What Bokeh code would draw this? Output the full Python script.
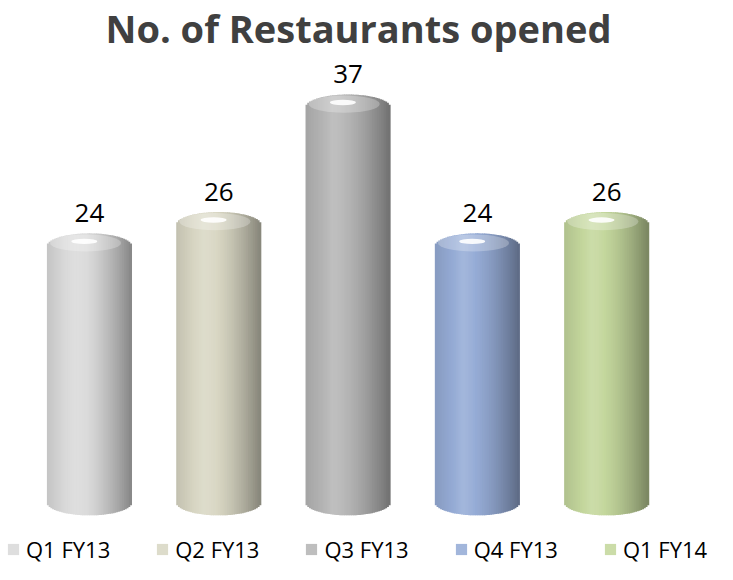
import numpy as np
from bokeh.plotting import figure
from bokeh.models import ColumnDataSource, Label, Legend, LegendItem, Range1d
from bokeh.core.properties import value
from bokeh.embed import file_html
from bokeh.resources import INLINE

# ---- data ----
categories = ["Q1 FY13", "Q2 FY13", "Q3 FY13", "Q4 FY13", "Q1 FY14"]
counts = [24, 26, 37, 24, 26]
base_colors = [(218, 218, 218), (217, 215, 196), (182, 182, 182), (150, 172, 214), (196, 215, 157)]
title_text = "No. of Restaurants opened"

W, H = 717, 564
p = figure(width=W, height=H, output_backend="svg", toolbar_location=None,
           x_range=Range1d(-0.688, 4.857), y_range=Range1d(-5.8, 47.0),
           x_axis_type=None, y_axis_type=None, min_border=0)
p.grid.visible = False
p.outline_line_color = None
p.background_fill_color = "white"
p.border_fill_color = "white"

bw = 0.65      # bar width (data units)
cap = 1.2      # half height of the elliptical cap (data units)
N = 48         # shading stripes per bar


def shade(rgb, u):
    if u < -0.35:
        t = (u + 1) / 0.65
        lum = 0.9 + 0.14 * t
    else:
        t = (u + 0.35) / 1.35
        lum = 1.04 - 0.42 * t ** 1.6
    out = []
    for c in rgb:
        if lum > 1:
            v = c + (255 - c) * (lum - 1) * 3
        else:
            v = c * lum
        out.append(int(max(0, min(255, round(v)))))
    return "#%02x%02x%02x" % tuple(out)


edges = np.linspace(-1, 1, N + 1)
us = (edges[:-1] + edges[1:]) / 2
half = np.sqrt(1 - us ** 2)

items = []
for i, (cat, v, col) in enumerate(zip(categories, counts, base_colors)):
    src = ColumnDataSource(dict(
        x=i + us * bw / 2,
        top=v + cap * half,
        bottom=-cap * half,
        color=[shade(col, u) for u in us],
    ))
    r = p.vbar(x="x", width=bw / N * 1.6, top="top", bottom="bottom",
               fill_color="color", line_color=None, source=src)
    items.append(LegendItem(label=cat, renderers=[r], index=N // 3))

# top-surface glow and specular highlight on each cap
xs = list(range(len(counts)))
p.ellipse(x=[x - 0.03 for x in xs], y=[v + 0.3 for v in counts], width=0.55, height=1.6,
          fill_color="white", fill_alpha=0.25, line_color=None)
p.ellipse(x=[x - 0.04 for x in xs], y=[v + 0.45 for v in counts], width=0.2, height=0.5,
          fill_color="white", fill_alpha=0.9, line_color=None)

# value labels
p.text(x=xs, y=counts, text=[str(c) for c in counts], text_align="center",
       text_baseline="bottom", y_offset=-24, text_font=value("Open Sans"),
       text_font_size="26px", text_color="#000000")

# title
p.add_layout(Label(x=358, y=H - 1, x_units="screen", y_units="screen", text=title_text,
                   text_align="center", text_baseline="top", text_font="Open Sans",
                   text_font_style="bold", text_font_size="38px", text_color="#404040"))

legend = Legend(items=items, orientation="horizontal", location=(6, 0),
                border_line_color=None, background_fill_alpha=0, padding=0, margin=0,
                spacing=45, label_standoff=6, glyph_width=14, glyph_height=14,
                label_text_font="Open Sans", label_text_font_size="22px",
                label_text_color="#000000", label_height=22)
p.add_layout(legend)

open("out.html", "w").write(file_html(p, INLINE))
